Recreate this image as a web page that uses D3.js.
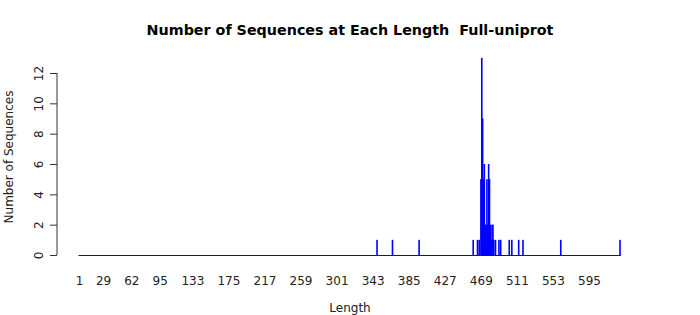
<!DOCTYPE html>
<html>
<head>
<meta charset="utf-8">
<script src="https://cdn.jsdelivr.net/npm/d3@7/dist/d3.min.js"></script>
<style>
  html, body { margin: 0; padding: 0; background: #fff; }
  svg { display: block; font-family: "DejaVu Sans", sans-serif; }
</style>
</head>
<body>
<svg id="chart" width="700" height="315"></svg>
<script>
// ---- data ----
const title = "Number of Sequences at Each Length  Full-uniprot";
const xLabel = "Length";
const yLabel = "Number of Sequences";
const minLength = 1;
const maxLength = 631;
const lengths = [348, 366, 397, 460, 465, 467, 469, 470, 471, 472, 473, 474, 475, 476, 477, 478, 479, 480, 481, 482, 483, 484, 486, 490, 492, 502, 505, 513, 518, 562, 631];
const counts  = [  1,   1,   1,   1,   1,   1,   5,  13,   9,   5,   6,   2,   2,   5,   2,   6,   5,   2,   1,   2,   2,   1,   1,   1,   1,   1,   1,   1,   1,   1,   1];
const xTickLabels = [1, 29, 62, 95, 133, 175, 217, 259, 301, 343, 385, 427, 469, 511, 553, 595];
const yTicks = [0, 2, 4, 6, 8, 10, 12];

// ---- layout ----
const svg = d3.select("#chart");
const x = d3.scaleLinear().domain([1, 595]).range([79, 589]);
const y = d3.scaleLinear().domain([0, 12]).range([255, 73]);
const blue = "#0000ff";

// title
svg.append("text")
  .attr("x", 350).attr("y", 34.5)
  .attr("text-anchor", "middle")
  .attr("font-size", 14.3).attr("font-weight", "bold")
  .attr("fill", "#000")
  .style("white-space", "pre")
  .attr("xml:space", "preserve")
  .text(title);

// baseline (zero-height bars)
svg.append("line")
  .attr("x1", x(minLength) - 0.5).attr("x2", x(maxLength) + 0.8)
  .attr("y1", y(0) + 0.5).attr("y2", y(0) + 0.5)
  .attr("stroke", blue).attr("stroke-width", 1);

// bars
const data = lengths.map((l, i) => ({ l, c: counts[i] }));
svg.append("g").selectAll("rect").data(data).enter().append("rect")
  .attr("x", d => x(d.l) - 0.7)
  .attr("width", 1.6)
  .attr("y", d => y(d.c))
  .attr("height", d => y(0) - y(d.c) + 1)
  .attr("fill", blue);

// y axis
const yAxis = d3.axisLeft(y).tickValues(yTicks).tickSize(7).tickPadding(6).tickFormat(d3.format("d"));
const gy = svg.append("g").attr("transform", "translate(57,0)").call(yAxis);
gy.select(".domain").attr("stroke", "#333").attr("d", `M0.5,${y(12)}V${y(0)}`).attr("transform", "translate(-0.5,0)");
gy.selectAll(".tick line").attr("stroke", "#333");
gy.selectAll(".tick text")
  .attr("font-size", 12).attr("font-family", "DejaVu Sans, sans-serif").attr("fill", "#222")
  .attr("text-anchor", "middle")
  .attr("x", null).attr("dy", null)
  .attr("transform", "translate(-18,0) rotate(-90)")
  .attr("y", 0).attr("dominant-baseline", "central");

// x tick labels (no ticks, no axis line)
const xAxis = d3.axisBottom(x).tickValues(xTickLabels).tickSize(0).tickPadding(21).tickFormat(d3.format("d"));
const gx = svg.append("g").attr("transform", "translate(0,255)").call(xAxis);
gx.select(".domain").remove();
gx.selectAll(".tick text").attr("font-size", 12).attr("font-family", "DejaVu Sans, sans-serif").attr("fill", "#222");

// axis titles
svg.append("text")
  .attr("x", 350).attr("y", 312)
  .attr("text-anchor", "middle")
  .attr("font-size", 12).attr("fill", "#222")
  .text(xLabel);
svg.append("text")
  .attr("transform", "translate(13,157) rotate(-90)")
  .attr("text-anchor", "middle")
  .attr("font-size", 12).attr("fill", "#222")
  .text(yLabel);
</script>
</body>
</html>
